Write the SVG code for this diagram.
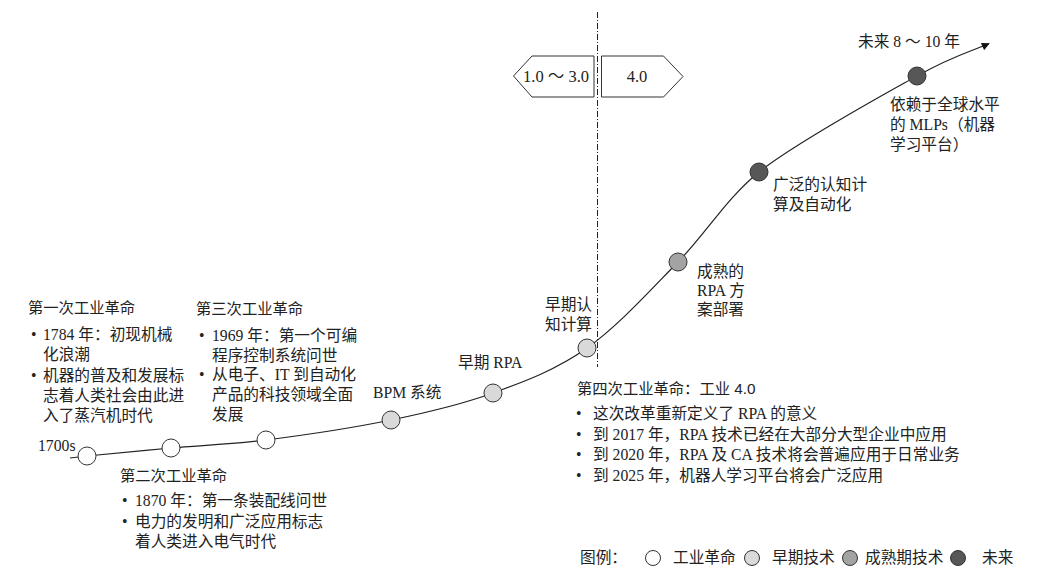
<svg xmlns="http://www.w3.org/2000/svg" width="1038" height="578" viewBox="0 0 1038 578">
<defs>
<marker id="arr" viewBox="0 0 10 10" refX="9" refY="5" markerWidth="9" markerHeight="8" markerUnits="userSpaceOnUse" orient="auto">
<path d="M0,0 L10,5 L0,10 Z" fill="#111"/>
</marker>
<style>
.t{font-family:"Liberation Serif","Noto Sans CJK SC",serif;font-size:15.7px;fill:#222}
.h{font-family:"Liberation Sans","Noto Sans CJK SC",sans-serif;font-size:15.3px;fill:#222}
.b{font-family:"Liberation Serif","Noto Sans CJK SC",serif;font-size:16.5px;fill:#222}
.c{stroke:#333;stroke-width:1}
.ind{fill:#fff}
.early{fill:#d9d9d9}
.mature{fill:#a3a3a3}
.future{fill:#575757}
.box{fill:#fff;stroke:#333;stroke-width:1}
</style>
</defs>
<rect width="1038" height="578" fill="#fff"/>

<g id="divider">
<line x1="597.5" y1="12" x2="597.5" y2="367" stroke="#222" stroke-width="1" stroke-dasharray="6,2,1,2"/>
<polygon class="box" points="513.5,76 532,56 594,56 594,97 532,97"/>
<text class="b" x="556" y="82" text-anchor="middle">1.0 ～ 3.0</text>
<polygon class="box" points="601.5,56 663.5,56 683,76.5 663.5,97 601.5,97"/>
<text class="b" x="637" y="82" text-anchor="middle">4.0</text>
</g>

<g id="connectors">
<path d="M70,458 L87,456 C103.8,454.3 141.2,450.7 171,448 C200.8,445.3 229.3,444.7 266,440 C302.7,435.3 353.2,427.8 391,420 C428.8,412.2 460.3,405 493,393 C525.7,381 556.2,369.8 587,348 C617.8,326.2 649.3,291.3 678,262 C706.7,232.7 725,200 759,172 C798.8,141 879.5,97 917,76 C954.5,55 972.8,51 989,43.5" fill="none" stroke="#222" stroke-width="1.2" marker-end="url(#arr)"/>
</g>

<g id="n1700">
<circle class="c ind" cx="87" cy="456" r="9"/>
<text class="t" x="38" y="451">1700s</text>
</g>
<g id="ind1">
<text class="h" x="28" y="313">第一次工业革命</text>
<text class="t" x="31" y="340">•</text>
<text class="t" x="43" y="340">1784 年：初现机械</text>
<text class="t" x="43" y="360">化浪潮</text>
<text class="t" x="31" y="381">•</text>
<text class="t" x="43" y="381">机器的普及和发展标</text>
<text class="t" x="43" y="401">志着人类社会由此进</text>
<text class="t" x="43" y="421">入了蒸汽机时代</text>
</g>
<g id="ind2">
<circle class="c ind" cx="171" cy="448" r="9"/>
<text class="h" x="120" y="481">第二次工业革命</text>
<text class="t" x="122" y="506">•</text>
<text class="t" x="135" y="506">1870 年：第一条装配线问世</text>
<text class="t" x="122" y="527">•</text>
<text class="t" x="135" y="527">电力的发明和广泛应用标志</text>
<text class="t" x="135" y="547">着人类进入电气时代</text>
</g>
<g id="ind3">
<circle class="c ind" cx="266" cy="440" r="9"/>
<text class="h" x="196" y="314">第三次工业革命</text>
<text class="t" x="199" y="341">•</text>
<text class="t" x="212" y="341">1969 年：第一个可编</text>
<text class="t" x="212" y="361">程序控制系统问世</text>
<text class="t" x="199" y="380">•</text>
<text class="t" x="212" y="380">从电子、IT 到自动化</text>
<text class="t" x="212" y="400">产品的科技领域全面</text>
<text class="t" x="212" y="420">发展</text>
</g>
<g id="bpm">
<circle class="c early" cx="391" cy="420" r="9"/>
<text class="t" x="373" y="398">BPM 系统</text>
</g>
<g id="earlyrpa">
<circle class="c early" cx="493" cy="393" r="9"/>
<text class="t" x="458" y="368">早期 RPA</text>
</g>
<g id="earlycog">
<circle class="c early" cx="587" cy="348" r="9"/>
<text class="t" x="545" y="310">早期认</text>
<text class="t" x="545" y="330">知计算</text>
</g>
<g id="ind4">
<text class="h" x="577" y="394">第四次工业革命：工业 4.0</text>
<text class="t" x="576" y="419">•</text>
<text class="t" x="593" y="419">这次改革重新定义了 RPA 的意义</text>
<text class="t" x="576" y="440">•</text>
<text class="t" x="593" y="440">到 2017 年，RPA 技术已经在大部分大型企业中应用</text>
<text class="t" x="576" y="460">•</text>
<text class="t" x="593" y="460">到 2020 年，RPA 及 CA 技术将会普遍应用于日常业务</text>
<text class="t" x="576" y="481">•</text>
<text class="t" x="593" y="481">到 2025 年，机器人学习平台将会广泛应用</text>
</g>
<g id="maturerpa">
<circle class="c mature" cx="678" cy="262" r="9"/>
<text class="t" x="697" y="277">成熟的</text>
<text class="t" x="697" y="296">RPA 方</text>
<text class="t" x="697" y="315">案部署</text>
</g>
<g id="cognitive">
<circle class="c future" cx="759" cy="172" r="9"/>
<text class="t" x="773" y="190">广泛的认知计</text>
<text class="t" x="773" y="210">算及自动化</text>
</g>
<g id="mlp">
<circle class="c future" cx="917" cy="76" r="9"/>
<text class="t" x="890" y="110">依赖于全球水平</text>
<text class="t" x="890" y="130">的 MLPs（机器</text>
<text class="t" x="890" y="150">学习平台）</text>
</g>
<g id="future-label">
<text class="t" x="858" y="47">未来 8 ～ 10 年</text>
</g>

<g id="legend">
<text class="t" x="580" y="563">图例：</text>
<circle class="c ind" cx="653" cy="558" r="7.5"/>
<text class="t" x="673" y="563">工业革命</text>
<circle class="c early" cx="752" cy="558" r="7.5"/>
<text class="t" x="772" y="563">早期技术</text>
<circle class="c mature" cx="850" cy="558" r="7.5"/>
<text class="t" x="865" y="563">成熟期技术</text>
<circle class="c future" cx="958" cy="558" r="7.5"/>
<text class="t" x="982" y="563">未来</text>
</g>
</svg>
